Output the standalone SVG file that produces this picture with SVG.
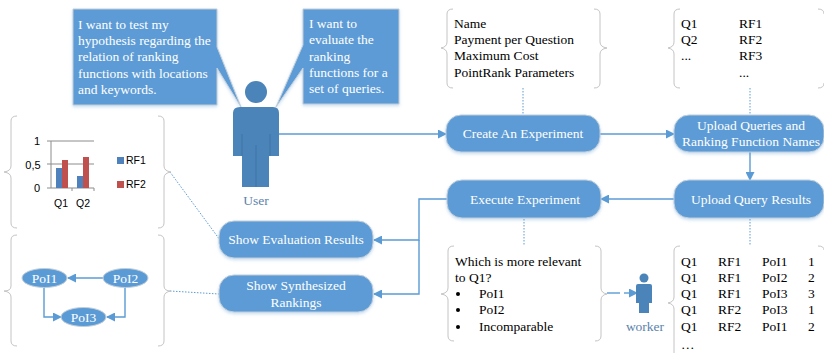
<svg xmlns="http://www.w3.org/2000/svg" width="824" height="353" viewBox="0 0 824 353">
<defs>
<style>
text{font-family:"Liberation Serif","Times New Roman",serif;font-size:13.5px;fill:#000}
.w{fill:#fff}.m{text-anchor:middle}
.n{fill:#5b9bd5;stroke:#c3ced8;stroke-width:1}
.b{fill:none;stroke:#c4c4c4;stroke-width:1}
.l{fill:none;stroke:#5b9bd5;stroke-width:1.4}
.d{fill:none;stroke:#5b9bd5;stroke-width:1;stroke-dasharray:1.5 1.5}
.p{fill:#4a84b8}
.s{font-family:"Liberation Sans",Arial,sans-serif;font-size:9.5px}
.u{fill:#5a83ab}
</style>
<marker id="a" markerWidth="9" markerHeight="9" refX="8" refY="4.500" orient="auto" markerUnits="userSpaceOnUse"><path d="M0 0L9 4.500L0 9z" fill="#5b9bd5"/></marker>
<filter id="sh" x="-10%" y="-10%" width="120%" height="130%"><feDropShadow dx="0" dy="1.5" stdDeviation="1.5" flood-color="#5b9bd5" flood-opacity=".35"/></filter>
</defs>
<g id="connectors">
<path class="l" d="M279 134H446" marker-end="url(#a)"/>
<path class="l" d="M600 134H674" marker-end="url(#a)"/>
<path class="l" d="M750 152V180" marker-end="url(#a)"/>
<path class="l" d="M674 199H601" marker-end="url(#a)"/>
<path class="l" d="M447 199H419V240H374" marker-end="url(#a)"/>
<path class="l" d="M419 240V294H374" marker-end="url(#a)"/>
<path class="d" d="M523 88V115M750 88V115M524 219V246M750 219V246"/>
<path class="d" d="M170 172L220 240M170 291L219 294"/>
<path class="l" d="M607 293H620"/>
<path class="l" d="M624 293H637" marker-end="url(#a)" stroke-dasharray="10 3 1 3"/>
</g>
<g id="callout-hypothesis">
<path class="n" filter="url(#sh)" d="M73 9H217V47L241 107L217 68V105H73z"/>
<text class="w" x="78" y="29">I want to test my</text><text class="w" x="78" y="45">hypothesis regarding the</text><text class="w" x="78" y="61">relation of ranking</text><text class="w" x="78" y="78">functions with locations</text><text class="w" x="78" y="94">and keywords.</text>
</g>
<g id="callout-evaluate">
<path class="n" filter="url(#sh)" d="M303 9H399V104H303V68L276 107L303 45z"/>
<text class="w" x="309" y="28">I want to</text><text class="w" x="309" y="44">evaluate the</text><text class="w" x="309" y="61">ranking</text><text class="w" x="309" y="77">functions for a</text><text class="w" x="309" y="93">set of queries.</text>
</g>
<g id="user">
<circle class="p" cx="256" cy="92" r="11"/>
<path class="p" d="M240 107H273Q279 107 279 113V156H269V187H242V156H233V113Q233 107 240 107z"/>
<path d="M242 134V156M270 134V156M256 145V187" stroke="#3b6f9e" stroke-width=".7" fill="none"/>
<text class="m u" x="256" y="205">User</text>
</g>
<g id="create"><rect class="n" filter="url(#sh)" x="446" y="115" width="154" height="37" rx="15"/><text class="w m" x="523" y="138">Create An Experiment</text></g>
<g id="upload-queries"><rect class="n" filter="url(#sh)" x="674" y="115" width="150" height="37" rx="15"/><text class="w m" x="751" y="130">Upload Queries and</text><text class="w m" x="751" y="146">Ranking Function Names</text></g>
<g id="upload-results"><rect class="n" filter="url(#sh)" x="674" y="180" width="150" height="38" rx="15"/><text class="w m" x="751" y="204">Upload Query Results</text></g>
<g id="execute"><rect class="n" filter="url(#sh)" x="447" y="180" width="154" height="38" rx="15"/><text class="w m" x="525" y="204">Execute Experiment</text></g>
<g id="show-eval"><rect class="n" filter="url(#sh)" x="219" y="221" width="154" height="37" rx="15"/><text class="w m" x="296" y="244">Show Evaluation Results</text></g>
<g id="show-synth"><rect class="n" filter="url(#sh)" x="219" y="275" width="154" height="37" rx="15"/><text class="w m" x="296" y="290">Show Synthesized</text><text class="w m" x="296" y="307">Rankings</text></g>
<g id="params">
<path class="b" d="M453 9Q447 9 447 14V42Q447 47 441 48Q447 49 447 54V83Q447 88 453 88M594 9Q600 9 600 14V42Q600 47 607 48Q600 49 600 54V83Q600 88 594 88"/>
<text x="454" y="28">Name</text><text x="454" y="44">Payment per Question</text><text x="454" y="60">Maximum Cost</text><text x="454" y="77">PointRank Parameters</text>
</g>
<g id="queries">
<path class="b" d="M680 9Q674 9 674 14V42Q674 47 668 48Q674 49 674 54V83Q674 88 680 88M818 9Q824 9 824 14M818 88Q824 88 824 83"/>
<text x="681" y="28">Q1</text><text x="681" y="44">Q2</text><text x="681" y="60">...</text><text x="739" y="28">RF1</text><text x="739" y="44">RF2</text><text x="739" y="60">RF3</text><text x="739" y="77">...</text>
</g>
<g id="question">
<path class="b" d="M454 246Q448 246 448 251V288Q448 293 441 294Q448 295 448 300V336Q448 341 454 341M595 246Q601 246 601 251V288Q601 293 607 294Q601 295 601 300V336Q601 341 595 341"/>
<text x="455" y="266">Which is more relevant</text><text x="455" y="282">to Q1?</text>
<circle cx="458" cy="294" r="2"/><circle cx="458" cy="310" r="2"/><circle cx="458" cy="327" r="2"/>
<text x="479" y="298">PoI1</text><text x="479" y="314">PoI2</text><text x="479" y="331">Incomparable</text>
</g>
<g id="worker">
<circle class="p" cx="644" cy="278" r="4.500"/>
<path class="p" d="M638 284H650Q652 284 652 286V303H649V313H639V303H636V286Q636 284 638 284z"/>
<text class="m u" x="645" y="331">worker</text>
</g>
<g id="results">
<path class="b" d="M680 246Q674 246 674 251V297Q674 302 668 303Q674 304 674 309V353M818 246Q824 246 824 250"/>
<text x="681" y="266">Q1</text><text x="681" y="282">Q1</text><text x="681" y="298">Q1</text><text x="681" y="314">Q1</text><text x="681" y="331">Q1</text><text x="681" y="349">…</text>
<text x="718" y="266">RF1</text><text x="718" y="282">RF1</text><text x="718" y="298">RF1</text><text x="718" y="314">RF2</text><text x="718" y="331">RF2</text>
<text x="762" y="266">PoI1</text><text x="762" y="282">PoI2</text><text x="762" y="298">PoI3</text><text x="762" y="314">PoI3</text><text x="762" y="331">PoI1</text>
<text x="808" y="266">1</text><text x="808" y="282">2</text><text x="808" y="298">3</text><text x="808" y="314">1</text><text x="808" y="331">2</text>
</g>
<g id="chart">
<path class="b" d="M17 116Q11 116 11 121V166Q11 171 4 172Q11 173 11 178V223Q11 228 17 228M158 116Q164 116 164 121V166Q164 171 171 172Q164 173 164 178V223Q164 228 158 228"/>
<path d="M47 141H94M47 164H94M47 188H94M51 141V188M72 188V191M94 188V191" stroke="#8c8c8c" stroke-width="1" fill="none"/>
<rect x="56" y="168" width="6" height="20" fill="#4f81bd"/><rect x="62" y="160" width="6" height="28" fill="#c0504d"/>
<rect x="77" y="176" width="6" height="12" fill="#4f81bd"/><rect x="83" y="157" width="6" height="31" fill="#c0504d"/>
<text class="s m" x="37" y="145" style="font-size:11px">1</text><text class="s m" x="33" y="169" style="font-size:11px">0,5</text><text class="s m" x="37" y="192" style="font-size:11px">0</text>
<text class="s m" x="61" y="207" style="font-size:10.500px">Q1</text><text class="s m" x="83" y="207" style="font-size:10.500px">Q2</text>
<rect x="117" y="157" width="7" height="7" fill="#4f81bd"/><text class="s" x="126" y="164" style="font-size:10.500px">RF1</text>
<rect x="117" y="181" width="7" height="7" fill="#c0504d"/><text class="s" x="126" y="188" style="font-size:10.500px">RF2</text>
</g>
<g id="poi-graph">
<path class="b" d="M17 235Q11 235 11 240V286Q11 291 4 291Q11 292 11 297V341Q11 346 17 346M158 235Q164 235 164 240V286Q164 291 171 291Q164 292 164 297V341Q164 346 158 346"/>
<path class="l" d="M103 278H68" marker-end="url(#a)"/>
<path class="l" d="M44 287V317H61" marker-end="url(#a)"/>
<path class="l" d="M125 287V317H107" marker-end="url(#a)"/>
<g id="poi1"><ellipse class="n" cx="44.500" cy="278" rx="22.500" ry="9.500"/><text class="w m" x="44.500" y="283">PoI1</text></g>
<g id="poi2"><ellipse class="n" cx="125.500" cy="278" rx="22.500" ry="9.500"/><text class="w m" x="125.500" y="283">PoI2</text></g>
<g id="poi3"><ellipse class="n" cx="83.500" cy="317" rx="22.500" ry="9.500"/><text class="w m" x="83.500" y="322">PoI3</text></g>
</g>
</svg>
